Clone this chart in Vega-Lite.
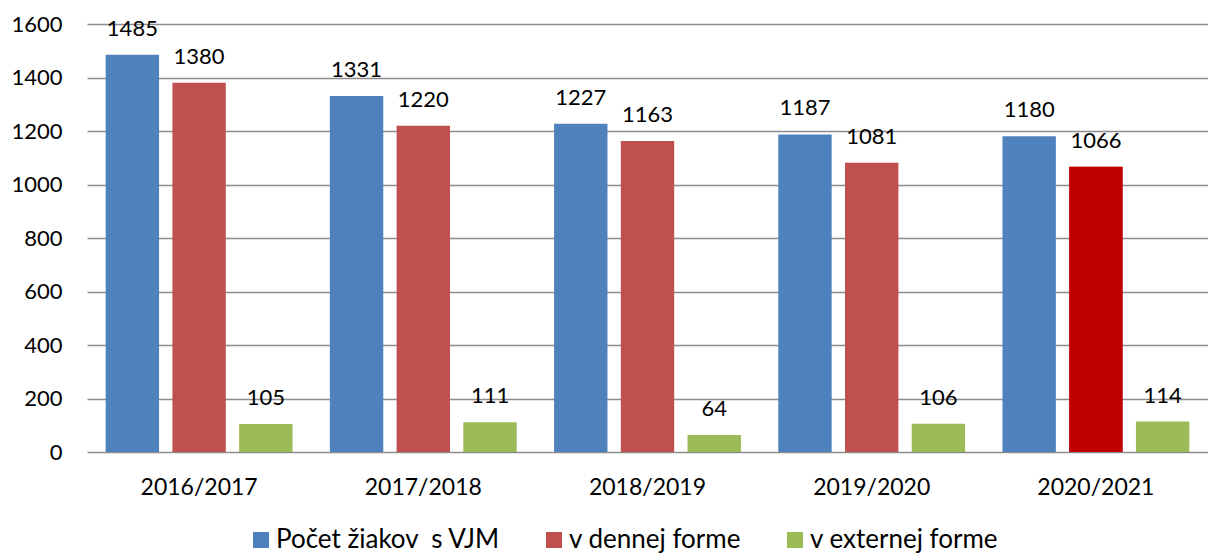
{
  "$schema": "https://vega.github.io/schema/vega-lite/v6.json",
  "autosize": {"type": "none"},
  "width": 1121,
  "height": 428,
  "padding": {"left": 87, "top": 24, "right": 0, "bottom": 102},
  "background": "white",
  "config": {
    "font": "Lato",
    "view": {"stroke": null},
    "axis": {"labelFont": "Lato", "labelColor": "#000000"}
  },
  "data": {
    "values": [
      {"year": "2016/2017", "series": "Počet žiakov  s VJM", "value": 1485},
      {"year": "2016/2017", "series": "v dennej forme", "value": 1380},
      {"year": "2016/2017", "series": "v externej forme", "value": 105},
      {"year": "2017/2018", "series": "Počet žiakov  s VJM", "value": 1331},
      {"year": "2017/2018", "series": "v dennej forme", "value": 1220},
      {"year": "2017/2018", "series": "v externej forme", "value": 111},
      {"year": "2018/2019", "series": "Počet žiakov  s VJM", "value": 1227},
      {"year": "2018/2019", "series": "v dennej forme", "value": 1163},
      {"year": "2018/2019", "series": "v externej forme", "value": 64},
      {"year": "2019/2020", "series": "Počet žiakov  s VJM", "value": 1187},
      {"year": "2019/2020", "series": "v dennej forme", "value": 1081},
      {"year": "2019/2020", "series": "v externej forme", "value": 106},
      {"year": "2020/2021", "series": "Počet žiakov  s VJM", "value": 1180},
      {"year": "2020/2021", "series": "v dennej forme", "value": 1066},
      {"year": "2020/2021", "series": "v externej forme", "value": 114}
    ]
  },
  "encoding": {
    "x": {
      "field": "year", "type": "nominal", "sort": null,
      "scale": {"paddingInner": 0, "paddingOuter": 0},
      "axis": {"title": null, "labelAngle": 0, "ticks": false, "domain": false, "labelFontSize": 23, "labelPadding": 24, "grid": false}
    },
    "xOffset": {
      "field": "series", "type": "nominal",
      "scale": {"domain": ["Počet žiakov  s VJM", "v dennej forme", "v externej forme"], "paddingInner": 0.2, "paddingOuter": 0.28}
    },
    "y": {
      "field": "value", "type": "quantitative",
      "scale": {"domain": [0, 1600], "nice": false},
      "axis": {"title": null, "format": "d", "values": [0, 200, 400, 600, 800, 1000, 1200, 1400, 1600], "ticks": false, "domain": false, "labelFontSize": 22, "labelPadding": 25, "gridColor": "#8c8c8c", "gridWidth": 1.5, "gridOpacity": 1}
    }
  },
  "layer": [
    {
      "mark": {"type": "bar"},
      "encoding": {
        "color": {
          "field": "series", "type": "nominal",
          "scale": {"domain": ["Počet žiakov  s VJM", "v dennej forme", "v externej forme"], "range": ["#4F81BD", "#C0504D", "#9BBB59"]},
          "legend": {
            "title": null, "orient": "none", "direction": "horizontal",
            "legendX": 161, "legendY": 503,
            "symbolType": "square", "symbolSize": 256, "symbolStrokeWidth": 0,
            "labelFontSize": 26, "labelFont": "Lato", "labelLimit": 400,
            "labelExpr": "replace(datum.label, '  ', ' \u00a0')",
            "columnPadding": 40, "labelOffset": 2, "padding": 0
          }
        }
      }
    },
    {
      "transform": [{"filter": "datum.year === '2020/2021' && datum.series === 'v dennej forme'"}],
      "mark": {"type": "bar", "color": "#C00000"}
    },
    {
      "mark": {"type": "text", "dy": -26, "baseline": "middle", "fontSize": 22, "font": "Lato", "color": "#000000"},
      "encoding": {"text": {"field": "value", "type": "quantitative"}}
    }
  ]
}
